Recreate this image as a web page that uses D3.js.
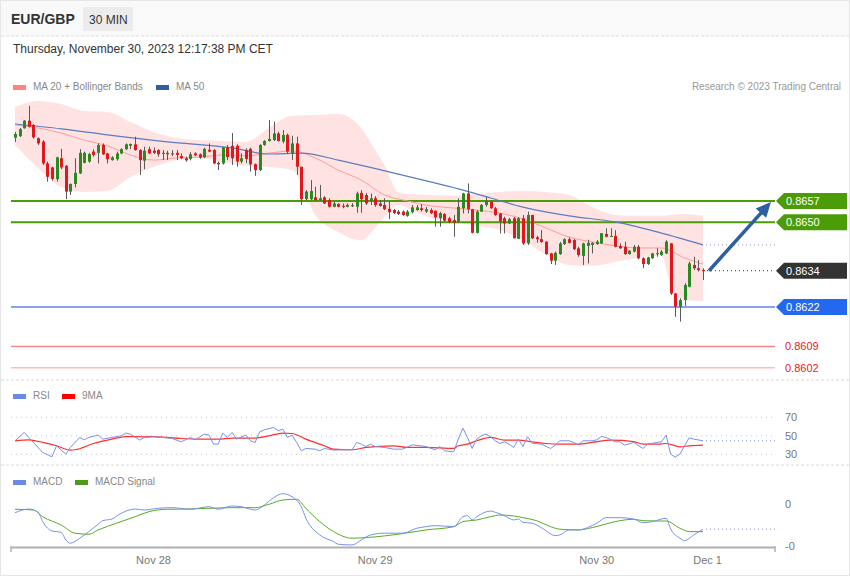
<!DOCTYPE html>
<html><head><meta charset="utf-8">
<script src="https://cdn.jsdelivr.net/npm/d3@7"></script>
<style>body{margin:0;background:#fff}svg{display:block;font-family:"Liberation Sans",Arial,sans-serif}</style>
</head><body><svg id="c" width="850" height="576"></svg>
<script>
// ---------- DATA ----------
const openP=[0.86779,0.86784,0.86810,0.86835,0.86821,0.86777,0.86766,0.86694,0.86681,0.86642,0.86711,0.86686,0.86601,0.86626,0.86661,0.86696,0.86700,0.86733,0.86729,0.86755,0.86727,0.86705,0.86708,0.86727,0.86741,0.86752,0.86757,0.86738,0.86703,0.86741,0.86736,0.86738,0.86729,0.86724,0.86727,0.86729,0.86718,0.86711,0.86709,0.86727,0.86724,0.86714,0.86739,0.86738,0.86696,0.86694,0.86747,0.86752,0.86752,0.86700,0.86738,0.86742,0.86691,0.86672,0.86755,0.86768,0.86771,0.86793,0.86766,0.86788,0.86727,0.86760,0.86683,0.86576,0.86576,0.86582,0.86573,0.86582,0.86573,0.86551,0.86560,0.86554,0.86551,0.86556,0.86551,0.86597,0.86590,0.86571,0.86579,0.86562,0.86557,0.86544,0.86540,0.86535,0.86535,0.86521,0.86533,0.86540,0.86546,0.86535,0.86540,0.86538,0.86513,0.86527,0.86513,0.86507,0.86502,0.86546,0.86595,0.86543,0.86465,0.86535,0.86557,0.86568,0.86546,0.86529,0.86513,0.86496,0.86513,0.86445,0.86513,0.86430,0.86524,0.86450,0.86444,0.86436,0.86397,0.86373,0.86395,0.86428,0.86444,0.86441,0.86414,0.86389,0.86422,0.86425,0.86428,0.86430,0.86461,0.86452,0.86455,0.86422,0.86419,0.86395,0.86403,0.86419,0.86381,0.86362,0.86381,0.86397,0.86392,0.86397,0.86430,0.86265,0.86221,0.86243,0.86287,0.86359,0.86348,0.86342];
const highP=[0.86798,0.86811,0.86837,0.86884,0.86824,0.86780,0.86771,0.86700,0.86683,0.86716,0.86742,0.86689,0.86628,0.86711,0.86741,0.86733,0.86729,0.86741,0.86760,0.86760,0.86729,0.86718,0.86733,0.86744,0.86760,0.86760,0.86782,0.86741,0.86749,0.86749,0.86747,0.86741,0.86738,0.86736,0.86738,0.86738,0.86727,0.86716,0.86731,0.86731,0.86727,0.86746,0.86760,0.86742,0.86700,0.86749,0.86755,0.86794,0.86757,0.86727,0.86744,0.86746,0.86694,0.86757,0.86771,0.86837,0.86832,0.86799,0.86804,0.86793,0.86785,0.86782,0.86683,0.86606,0.86639,0.86617,0.86623,0.86586,0.86579,0.86568,0.86563,0.86562,0.86562,0.86563,0.86601,0.86606,0.86596,0.86595,0.86586,0.86573,0.86579,0.86568,0.86544,0.86540,0.86539,0.86540,0.86557,0.86557,0.86560,0.86550,0.86546,0.86538,0.86534,0.86530,0.86518,0.86524,0.86579,0.86597,0.86628,0.86544,0.86540,0.86560,0.86584,0.86573,0.86550,0.86530,0.86518,0.86514,0.86517,0.86517,0.86524,0.86535,0.86524,0.86455,0.86474,0.86436,0.86399,0.86403,0.86435,0.86447,0.86450,0.86444,0.86419,0.86432,0.86442,0.86434,0.86441,0.86464,0.86480,0.86480,0.86474,0.86430,0.86436,0.86408,0.86425,0.86425,0.86384,0.86386,0.86399,0.86414,0.86408,0.86441,0.86432,0.86267,0.86249,0.86299,0.86370,0.86386,0.86375,0.86348];
const lowP=[0.86765,0.86781,0.86809,0.86813,0.86776,0.86755,0.86689,0.86634,0.86637,0.86634,0.86675,0.86576,0.86590,0.86615,0.86659,0.86694,0.86696,0.86716,0.86694,0.86722,0.86694,0.86703,0.86703,0.86724,0.86738,0.86741,0.86736,0.86656,0.86675,0.86725,0.86725,0.86716,0.86705,0.86705,0.86718,0.86705,0.86708,0.86700,0.86704,0.86718,0.86709,0.86711,0.86731,0.86692,0.86672,0.86690,0.86705,0.86689,0.86683,0.86694,0.86695,0.86667,0.86653,0.86669,0.86752,0.86766,0.86768,0.86766,0.86760,0.86725,0.86705,0.86656,0.86557,0.86573,0.86573,0.86571,0.86571,0.86560,0.86549,0.86549,0.86549,0.86546,0.86549,0.86550,0.86531,0.86531,0.86557,0.86557,0.86551,0.86551,0.86540,0.86510,0.86527,0.86524,0.86521,0.86518,0.86529,0.86538,0.86535,0.86531,0.86527,0.86485,0.86485,0.86501,0.86497,0.86452,0.86497,0.86529,0.86529,0.86463,0.86463,0.86534,0.86551,0.86544,0.86521,0.86463,0.86463,0.86494,0.86447,0.86445,0.86425,0.86425,0.86444,0.86432,0.86432,0.86392,0.86362,0.86359,0.86392,0.86425,0.86430,0.86408,0.86386,0.86359,0.86364,0.86397,0.86425,0.86428,0.86450,0.86451,0.86417,0.86412,0.86392,0.86393,0.86401,0.86378,0.86348,0.86359,0.86379,0.86386,0.86389,0.86395,0.86260,0.86188,0.86172,0.86224,0.86285,0.86342,0.86337,0.86309];
const closeP=[0.86791,0.86807,0.86835,0.86815,0.86780,0.86760,0.86694,0.86650,0.86643,0.86714,0.86681,0.86601,0.86626,0.86663,0.86729,0.86729,0.86725,0.86722,0.86755,0.86724,0.86708,0.86714,0.86727,0.86741,0.86757,0.86758,0.86738,0.86705,0.86736,0.86727,0.86729,0.86724,0.86726,0.86729,0.86725,0.86722,0.86711,0.86704,0.86724,0.86721,0.86713,0.86742,0.86733,0.86694,0.86691,0.86747,0.86715,0.86711,0.86700,0.86711,0.86709,0.86691,0.86672,0.86755,0.86768,0.86775,0.86793,0.86768,0.86788,0.86733,0.86760,0.86683,0.86576,0.86601,0.86603,0.86573,0.86579,0.86562,0.86551,0.86562,0.86551,0.86553,0.86557,0.86555,0.86595,0.86576,0.86562,0.86579,0.86557,0.86554,0.86543,0.86533,0.86530,0.86527,0.86524,0.86535,0.86549,0.86549,0.86540,0.86543,0.86530,0.86516,0.86530,0.86505,0.86500,0.86498,0.86551,0.86595,0.86543,0.86465,0.86535,0.86557,0.86571,0.86546,0.86524,0.86502,0.86496,0.86510,0.86447,0.86513,0.86430,0.86524,0.86447,0.86444,0.86435,0.86395,0.86373,0.86399,0.86430,0.86444,0.86432,0.86411,0.86392,0.86430,0.86432,0.86432,0.86436,0.86464,0.86452,0.86455,0.86419,0.86414,0.86395,0.86406,0.86419,0.86381,0.86362,0.86384,0.86397,0.86398,0.86403,0.86436,0.86265,0.86221,0.86243,0.86293,0.86364,0.86348,0.86342,0.86339];

const bbIdx=[0,5,10,15,20,25,30,35,40,45,50,55,60,65,70,75,78,80,83,85,90,95,100,105,110,115,120,125,130,135,140,142,145,149];
const bbUpper=[0.86880,0.86900,0.86890,0.86867,0.86864,0.86831,0.86798,0.86778,0.86771,0.86768,0.86765,0.86811,0.86851,0.86854,0.86857,0.86811,0.86738,0.86689,0.86600,0.86593,0.86590,0.86587,0.86593,0.86600,0.86603,0.86600,0.86590,0.86550,0.86524,0.86521,0.86521,0.86524,0.86527,0.86521];
const bbLower=[0.86755,0.86679,0.86616,0.86600,0.86603,0.86649,0.86682,0.86705,0.86712,0.86699,0.86686,0.86682,0.86672,0.86524,0.86468,0.86441,0.86481,0.86517,0.86557,0.86547,0.86514,0.86501,0.86488,0.86474,0.86441,0.86392,0.86359,0.86356,0.86369,0.86382,0.86389,0.86293,0.86243,0.86240];
const ma20Idx=[0,5,10,15,20,25,30,35,40,45,50,55,60,65,70,75,80,85,90,95,100,105,110,115,120,125,130,135,140,145,149];
const ma20Val=[0.86821,0.86811,0.86794,0.86771,0.86752,0.86722,0.86705,0.86712,0.86715,0.86722,0.86719,0.86728,0.86735,0.86712,0.86672,0.86639,0.86590,0.86570,0.86554,0.86547,0.86540,0.86530,0.86511,0.86481,0.86451,0.86435,0.86422,0.86415,0.86415,0.86382,0.86362];
const ma50Idx=[0,10,20,33,47,55,62,70,81,90,96,103,110,120,130,140,149];
const ma50Val=[0.86824,0.86808,0.86788,0.86765,0.86745,0.86725,0.86728,0.86705,0.86666,0.86633,0.86610,0.86580,0.86550,0.86521,0.86501,0.86464,0.86425];

const levelValues=[0.8657,0.8650,0.8634,0.8622,0.8609,0.8602];
const levelLabels=["0.8657","0.8650","0.8634","0.8622","0.8609","0.8602"];

const rsiPts=[[0,44.6],[2,53.6],[4,42.8],[6,31.9],[8,27.3],[9,39.2],[11,30.2],[12,37.4],[14,48.2],[15,45.7],[16,48.2],[18,50.8],[19,46.4],[21,48.2],[23,50],[24,52.9],[25,51.8],[27,45.4],[28,48.2],[30,48.9],[32,48.2],[34,47.1],[36,43.5],[38,48.2],[39,45.7],[41,51.8],[42,50.8],[43,41],[44,41],[45,52.9],[46,48.2],[47,53.6],[48,46.4],[50,50.8],[51,44.6],[52,42.8],[53,54.3],[54,56.5],[56,59],[57,55.4],[58,57.2],[59,48.2],[60,50.8],[61,42.8],[62,33.8],[63,36.3],[65,35.6],[66,33.8],[67,36.3],[69,34.5],[71,34.9],[73,34.9],[74,42.8],[75,41],[76,38.4],[77,41],[78,38.4],[80,37.4],[82,35.6],[84,35.6],[86,40.3],[89,38.4],[91,34.9],[92,38.4],[93,33.8],[95,32.7],[96,46.4],[97,58.3],[98,48.2],[99,36.3],[100,46.4],[101,50],[102,51.8],[103,48.9],[104,44.6],[105,41.7],[106,43.5],[107,41],[108,37.4],[109,46.4],[110,38.4],[111,48.9],[112,42.1],[113,41.4],[114,41],[116,36.3],[117,39.9],[118,44.6],[120,44.6],[121,42.8],[122,40.3],[123,44.6],[125,44.6],[126,45.7],[127,49.2],[128,48.2],[130,43.5],[131,43.5],[132,39.9],[134,42.8],[136,36.3],[137,41],[139,42.8],[140,43.5],[141,50.8],[142,30.2],[143,27],[144,30.2],[145,39.2],[146,47.8],[147,46.4],[149,44.6]];
const ma9Pts=[[0,44.6],[3,45.7],[6,42.8],[9,39.2],[12,34.5],[13,34.9],[17,41.7],[21,46.4],[24,49.2],[28,48.9],[30,49.2],[33,48.2],[36,47.1],[40,46.4],[44,46.4],[47,47.5],[52,47.5],[55,50],[58,52.9],[60,52.5],[63,46.4],[67,39.2],[69,35.6],[73,34.9],[76,37.4],[82,39.2],[85,37.4],[89,37.4],[95,36.3],[96,39.2],[98,41],[100,44.6],[103,48.2],[106,45.4],[109,45.4],[112,43.5],[115,41.7],[118,41],[122,41],[125,42.8],[129,45.4],[134,43.8],[136,41],[139,41],[141,41.7],[144,38.1],[146,39.2],[149,39.9]];
const rsiTicks=[70,50,30];

const macdPts=[[0,-0.000083],[3,-0.000048],[5,-0.000079],[6,-0.000168],[8,-0.000257],[10,-0.000269],[11,-0.000342],[12,-0.000373],[14,-0.000326],[16,-0.000263],[18,-0.000193],[19,-0.000159],[21,-0.000143],[23,-0.000088],[26,-0.000048],[28,-0.000057],[31,-0.000041],[34,-0.000035],[38,-0.000050],[42,-0.000026],[44,-0.000050],[47,-0.000019],[49,-0.000026],[52,-0.000057],[54,-0.000010],[56,0.000060],[58,0.000098],[60,0.000069],[62,-0.000026],[63,-0.000136],[66,-0.000295],[69,-0.000358],[70,-0.000383],[73,-0.000390],[75,-0.000342],[77,-0.000295],[80,-0.000278],[84,-0.000278],[87,-0.000231],[89,-0.000216],[91,-0.000206],[95,-0.000216],[97,-0.000121],[98,-0.000111],[99,-0.000152],[100,-0.000121],[103,-0.000067],[104,-0.000079],[106,-0.000111],[108,-0.000152],[109,-0.000143],[110,-0.000174],[112,-0.000183],[114,-0.000225],[117,-0.000301],[118,-0.000295],[120,-0.000247],[122,-0.000247],[124,-0.000225],[126,-0.000183],[128,-0.000130],[131,-0.000130],[134,-0.000143],[136,-0.000178],[138,-0.000168],[141,-0.000136],[142,-0.000238],[144,-0.000326],[145,-0.000349],[147,-0.000295],[149,-0.000240]];
const signalPts=[[0,-0.000050],[4,-0.000057],[6,-0.000121],[10,-0.000200],[13,-0.000278],[16,-0.000288],[18,-0.000247],[22,-0.000183],[26,-0.000121],[29,-0.000073],[33,-0.000050],[37,-0.000048],[42,-0.000041],[47,-0.000035],[52,-0.000035],[55,-0.000003],[58,0.000038],[61,0.000045],[63,-0.000041],[66,-0.000168],[69,-0.000263],[73,-0.000326],[76,-0.000320],[80,-0.000304],[83,-0.000288],[89,-0.000247],[95,-0.000216],[97,-0.000168],[100,-0.000152],[103,-0.000121],[105,-0.000105],[108,-0.000114],[110,-0.000130],[113,-0.000159],[116,-0.000216],[118,-0.000240],[122,-0.000247],[125,-0.000225],[128,-0.000190],[131,-0.000159],[134,-0.000145],[136,-0.000159],[139,-0.000162],[141,-0.000162],[144,-0.000231],[146,-0.000263],[149,-0.000263]];
const macdTickVals=[0,-0.0004];
const macdTickLabels=["0","-0"];

const dateTickIdx=[30,78,126,150];
const dateTickLabels=["Nov 28","Nov 29","Nov 30","Dec 1"];

// ---------- DRAW ----------
const svg=d3.select("#c");
const W=850,H=576, L=11, R=775;
svg.append("rect").attr("x",0.5).attr("y",0.5).attr("width",W-1).attr("height",H-1).attr("fill","#fff").attr("stroke","#e6e6e6");
svg.append("rect").attr("x",1).attr("y",1).attr("width",W-2).attr("height",35).attr("fill","#f9f9f9");
// separators
[36,380,465].forEach(yy=>svg.append("line").attr("x1",1).attr("x2",W-1).attr("y1",yy).attr("y2",yy)
  .attr("stroke","#ececec").attr("stroke-width",2).attr("stroke-dasharray","3,2"));

svg.append("text").attr("x",11).attr("y",24).attr("font-size",14).attr("font-weight","bold").attr("fill","#333").text("EUR/GBP");
svg.append("rect").attr("x",83).attr("y",7).attr("width",50).attr("height",24).attr("fill","#ececec");
svg.append("text").attr("x",89).attr("y",23.5).attr("font-size",12).attr("fill","#333").text("30 MIN");
svg.append("text").attr("x",13).attr("y",53).attr("font-size",12).attr("fill","#333").text("Thursday, November 30, 2023 12:17:38 PM CET");

function legend(items,yy){
  items.forEach(([x,color,label])=>{
    svg.append("rect").attr("x",x).attr("y",yy-5).attr("width",13).attr("height",5).attr("fill",color);
    svg.append("text").attr("x",x+20).attr("y",yy).attr("font-size",10).attr("fill","#888").text(label);
  });
}
legend([[13,"#ff8383","MA 20 + Bollinger Bands"],[156,"#2f5f9f","MA 50"]],90);
svg.append("text").attr("x",841).attr("y",90).attr("font-size",10).attr("fill","#999").attr("text-anchor","end").text("Research © 2023 Trading Central");
legend([[13,"#6b8ae6","RSI"],[62,"#ff0000","9MA"]],399);
legend([[13,"#6b8ae6","MACD"],[75,"#4c9a1a","MACD Signal"]],485);

const x=d3.scaleLinear().domain([0,149]).range([15,703]);
const y=d3.scaleLinear().domain([0.8602,0.8657]).range([367.7,201]);

// Bollinger bands
const bb=bbIdx.map((d,i)=>({i:d,u:bbUpper[i],l:bbLower[i]}));
svg.append("path").datum(bb).attr("fill","#ffe3e3")
  .attr("d",d3.area().curve(d3.curveMonotoneX).x(d=>x(d.i)).y0(d=>y(d.l)).y1(d=>y(d.u)));

// levels
const lv=levelValues;
const lineStyle=[["#4b9c06",2],["#4b9c06",2],null,["#5f82e6",1.5],["#ee8888",1.5],["#ffbcbc",1.5]];
lv.forEach((v,k)=>{
  if(!lineStyle[k]) return;
  svg.append("line").attr("x1",L).attr("x2",R).attr("y1",y(v)).attr("y2",y(v))
    .attr("stroke",lineStyle[k][0]).attr("stroke-width",lineStyle[k][1]);
});

// MA lines
svg.append("path").datum(ma20Idx.map((d,i)=>[d,ma20Val[i]])).attr("fill","none").attr("stroke","#ff9a9a").attr("stroke-width",1)
  .attr("d",d3.line().curve(d3.curveMonotoneX).x(d=>x(d[0])).y(d=>y(d[1])));
svg.append("path").datum(ma50Idx.map((d,i)=>[d,ma50Val[i]])).attr("fill","none").attr("stroke","#5a7dbf").attr("stroke-width",1.2)
  .attr("d",d3.line().curve(d3.curveMonotoneX).x(d=>x(d[0])).y(d=>y(d[1])));

// candles
const candles=openP.map((o,i)=>({i,o,h:highP[i],l:lowP[i],c:closeP[i]}));
const g=svg.append("g");
g.selectAll("line.w").data(candles).join("line").attr("class","w")
  .attr("x1",d=>Math.round(x(d.i))+0.5).attr("x2",d=>Math.round(x(d.i))+0.5)
  .attr("y1",d=>y(d.h)).attr("y2",d=>y(d.l)).attr("stroke","#5a5a5a").attr("stroke-width",1);
g.selectAll("rect.b").data(candles).join("rect").attr("class","b")
  .attr("x",d=>Math.round(x(d.i))-1).attr("width",3)
  .attr("y",d=>y(Math.max(d.o,d.c)))
  .attr("height",d=>Math.max(1,Math.abs(y(d.o)-y(d.c))))
  .attr("fill",d=>d.c>=d.o?"#2a8a22":"#e3161c");

// dotted extensions
const lastI=149;
svg.append("line").attr("x1",x(lastI)+4).attr("x2",R).attr("y1",y(lv[2])).attr("y2",y(lv[2]))
  .attr("stroke","#333").attr("stroke-dasharray","1,3");
svg.append("line").attr("x1",x(lastI)+3).attr("x2",R).attr("y1",y(ma50Val[ma50Val.length-1])).attr("y2",y(ma50Val[ma50Val.length-1]))
  .attr("stroke","#8898c0").attr("stroke-dasharray","1,3");

// tags
const tagFill=["#4b9c06","#4b9c06","#333333","#2468f0",null,null];
lv.forEach((v,k)=>{
  const yy=y(v);
  if(tagFill[k]){
    svg.append("path").attr("d",`M776,${yy} L784,${yy-8} L847,${yy-8} L847,${yy+8} L784,${yy+8} Z`).attr("fill",tagFill[k]);
    svg.append("text").attr("x",786).attr("y",yy+4).attr("font-size",11).attr("fill","#fff").text(levelLabels[k]);
  } else {
    svg.append("text").attr("x",785).attr("y",yy+4).attr("font-size",11).attr("fill","#e5202a").text(levelLabels[k]);
  }
});

// arrow
{
  const x0=x(lastI)+6, y0=y(lv[2]), x1=771, y1=y(lv[0])+1;
  const dx=x1-x0, dy=y1-y0, len=Math.hypot(dx,dy), ux=dx/len, uy=dy/len, px=-uy, py=ux;
  const hl=15, hw=7, bx=x1-ux*hl, by=y1-uy*hl;
  svg.append("line").attr("x1",x0).attr("y1",y0).attr("x2",bx+ux*2).attr("y2",by+uy*2)
    .attr("stroke","#2e5f9e").attr("stroke-width",3.5);
  svg.append("path").attr("d",`M${x1},${y1} L${bx+px*hw},${by+py*hw} L${bx-px*hw},${by-py*hw} Z`).attr("fill","#2e5f9e");
}

// RSI pane
const yr=d3.scaleLinear().domain([30,70]).range([454.3,417.3]);
rsiTicks.forEach(t=>{
  svg.append("line").attr("x1",L).attr("x2",R).attr("y1",yr(t)).attr("y2",yr(t)).attr("stroke","#c8c8c8").attr("stroke-dasharray","1,4");
  svg.append("text").attr("x",785).attr("y",yr(t)+4).attr("font-size",11).attr("fill","#777").text(t);
});
svg.append("path").datum(ma9Pts).attr("fill","none").attr("stroke","#ff3030").attr("stroke-width",1.2)
  .attr("d",d3.line().curve(d3.curveMonotoneX).x(d=>x(d[0])).y(d=>yr(d[1])));
svg.append("path").datum(rsiPts).attr("fill","none").attr("stroke","#7892ea").attr("stroke-width",1)
  .attr("d",d3.line().x(d=>x(d[0])).y(d=>yr(d[1])));
svg.append("line").attr("x1",x(lastI)+3).attr("x2",R).attr("y1",yr(rsiPts[rsiPts.length-1][1])).attr("y2",yr(rsiPts[rsiPts.length-1][1]))
  .attr("stroke","#7892ea").attr("stroke-dasharray","1,3");

// MACD pane
const ym=d3.scaleLinear().domain([-0.0004,0]).range([546,504]);
macdTickVals.forEach((t,k)=>{
  svg.append("text").attr("x",785).attr("y",ym(t)+4).attr("font-size",11).attr("fill","#777").text(macdTickLabels[k]);
});
svg.append("path").datum(signalPts).attr("fill","none").attr("stroke","#5aaa22").attr("stroke-width",1)
  .attr("d",d3.line().curve(d3.curveMonotoneX).x(d=>x(d[0])).y(d=>ym(d[1])));
svg.append("path").datum(macdPts).attr("fill","none").attr("stroke","#7892ea").attr("stroke-width",1)
  .attr("d",d3.line().curve(d3.curveMonotoneX).x(d=>x(d[0])).y(d=>ym(d[1])));
svg.append("line").attr("x1",x(lastI)+3).attr("x2",R).attr("y1",ym(macdPts[macdPts.length-1][1])).attr("y2",ym(macdPts[macdPts.length-1][1]))
  .attr("stroke","#7892ea").attr("stroke-dasharray","1,3");

// x axis
svg.append("line").attr("x1",L).attr("x2",R).attr("y1",547.5).attr("y2",547.5).attr("stroke","#b0b0b0").attr("stroke-width",2);
[L,R].forEach(xx=>svg.append("line").attr("x1",xx).attr("x2",xx).attr("y1",546).attr("y2",552).attr("stroke","#b0b0b0").attr("stroke-width",1.5));
dateTickIdx.forEach((d,k)=>{
  svg.append("text").attr("x",x(d)).attr("y",564).attr("font-size",11).attr("fill","#777").attr("text-anchor","middle").text(dateTickLabels[k]);
});
</script></body></html>
